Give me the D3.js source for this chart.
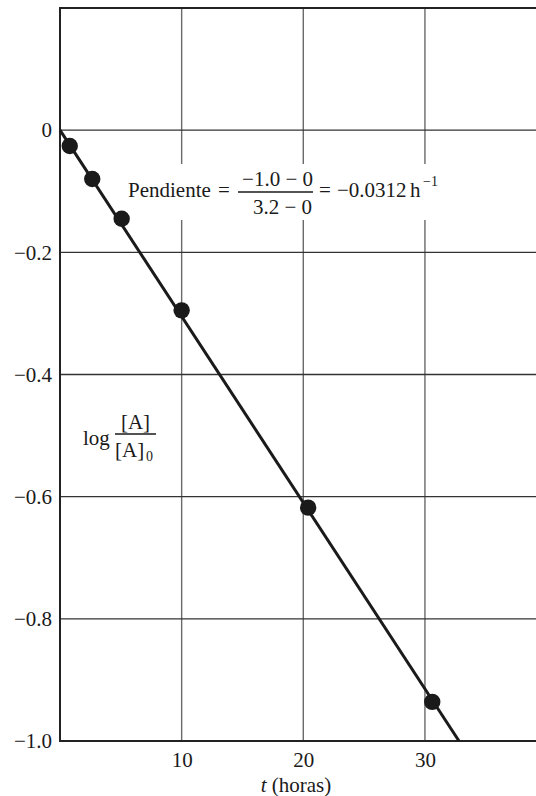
<!DOCTYPE html>
<html>
<head>
<meta charset="utf-8">
<script src="https://cdn.jsdelivr.net/npm/d3@7"></script>
<style>
  html, body { margin: 0; padding: 0; background: #fff; }
  svg { display: block; }
  text { font-family: "Liberation Serif", "Times New Roman", serif; fill: #1a1a1a; }
</style>
</head>
<body>
<svg id="chart" width="536" height="796"></svg>
<script>
// ---- data ----
const timeHours = [0.8, 2.65, 5.07, 10.0, 20.4, 30.6];
const logRatio  = [-0.026, -0.080, -0.145, -0.295, -0.618, -0.936];
const fitT      = [0, 32.8];
const fitLog    = [0, -1.0];
const xTicks = [10, 20, 30];
const yTicks = [0, -0.2, -0.4, -0.6, -0.8, -1.0];
const yTickLabels = ["0", "\u22120.2", "\u22120.4", "\u22120.6", "\u22120.8", "\u22121.0"];

const svg = d3.select("#chart");
const pLeft = 60, pRight = 536, pTop = 8, pBottom = 741;
const FS = "21px", FSsmall = "14px";

const x = d3.scaleLinear().domain([0, 39.13]).range([pLeft, pRight]);
const y = d3.scaleLinear().domain([-1.0, 0.2]).range([pBottom, pTop]);

// vertical gridlines
svg.append("g").selectAll("line").data(xTicks).join("line")
  .attr("x1", d => x(d)).attr("x2", d => x(d))
  .attr("y1", pTop).attr("y2", pBottom)
  .attr("stroke", "#6a6a6a").attr("stroke-width", 1.4);

// horizontal gridlines
svg.append("g").selectAll("line").data(yTicks.filter(d => d > -1)).join("line")
  .attr("x1", pLeft).attr("x2", pRight)
  .attr("y1", d => y(d)).attr("y2", d => y(d))
  .attr("stroke", "#333").attr("stroke-width", 1.3);

// white box behind slope annotation
svg.append("rect")
  .attr("x", 120).attr("y", 164).attr("width", 330).attr("height", 56)
  .attr("fill", "#fff");

// frame (top, left, bottom)
svg.append("path")
  .attr("d", `M${pRight},${pTop}H${pLeft}V${pBottom}H${pRight}`)
  .attr("fill", "none").attr("stroke", "#222").attr("stroke-width", 2);

// axes labels
const yAxis = d3.axisLeft(y).tickValues(yTicks)
  .tickFormat((d, i) => yTickLabels[i]).tickSize(0).tickPadding(8);
const gy = svg.append("g").attr("transform", `translate(${pLeft},0)`).call(yAxis);
gy.select(".domain").remove();
gy.selectAll("text").style("font-size", FS).attr("fill", "#1a1a1a")
  .style("font-family", "'Liberation Serif', serif");

const xAxis = d3.axisBottom(x).tickValues(xTicks).tickSize(0).tickPadding(11);
const gx = svg.append("g").attr("transform", `translate(0,${pBottom})`).call(xAxis);
gx.select(".domain").remove();
gx.selectAll("text").style("font-size", FS).attr("fill", "#1a1a1a")
  .style("font-family", "'Liberation Serif', serif");

// x axis title
const xt = svg.append("text").attr("x", 296).attr("y", 792)
  .attr("text-anchor", "middle").style("font-size", FS);
xt.append("tspan").style("font-style", "italic").text("t");
xt.append("tspan").text(" (horas)");

// fitted line
const fitData = fitT.map((t, i) => [t, fitLog[i]]);
svg.append("path")
  .datum(fitData)
  .attr("d", d3.line().x(d => x(d[0])).y(d => y(d[1])))
  .attr("fill", "none").attr("stroke", "#1a1a1a").attr("stroke-width", 3);

// points
svg.append("g").selectAll("circle").data(timeHours.map((t, i) => [t, logRatio[i]])).join("circle")
  .attr("cx", d => x(d[0])).attr("cy", d => y(d[1])).attr("r", 8.2)
  .attr("fill", "#1a1a1a");

// slope annotation
function txt(xp, yp, s, anchor) {
  return svg.append("text").attr("x", xp).attr("y", yp)
    .attr("text-anchor", anchor || "start").style("font-size", FS).text(s);
}
txt(128, 197, "Pendiente");
txt(218, 197, "=");
txt(313, 186, "\u22121.0 \u2212 0", "end");
svg.append("line").attr("x1", 238).attr("x2", 313).attr("y1", 192).attr("y2", 192)
  .attr("stroke", "#1a1a1a").attr("stroke-width", 1.3);
txt(312, 214, "3.2 \u2212 0", "end");
txt(319, 197, "=");
txt(337, 197, "\u22120.0312");
txt(410, 197, "h");
svg.append("text").attr("x", 423).attr("y", 186).style("font-size", FSsmall).text("\u22121");

// y label: log [A]/[A]0
txt(83, 445, "log");
txt(135.5, 429, "[A]", "middle");
svg.append("line").attr("x1", 115).attr("x2", 156).attr("y1", 434).attr("y2", 434)
  .attr("stroke", "#1a1a1a").attr("stroke-width", 1.3);
txt(115, 457, "[A]");
svg.append("text").attr("x", 146).attr("y", 461).style("font-size", FSsmall).text("0");
</script>
</body>
</html>
